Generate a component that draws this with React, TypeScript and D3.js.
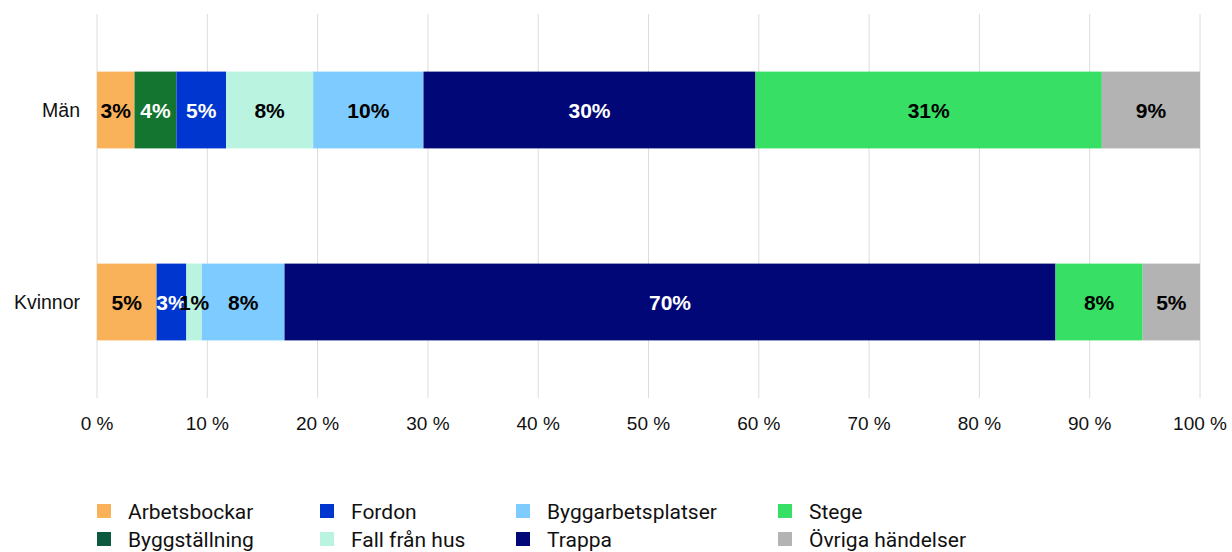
import React, { useRef, useEffect } from "react";
import * as d3 from "d3";

// data (share in %)
const groups = ["Män", "Kvinnor"];
const categories = [
  "Arbetsbockar",
  "Byggställning",
  "Fordon",
  "Fall från hus",
  "Byggarbetsplatser",
  "Trappa",
  "Stege",
  "Övriga händelser",
];
const manValues = [3.4, 3.8, 4.5, 7.9, 10.0, 30.1, 31.4, 8.9];
const kvinnorValues = [5.4, 0, 2.7, 1.4, 7.5, 69.9, 7.9, 5.2];
const colors = ["#F9B25A", "#137530", "#0036D0", "#BAF3E0", "#7ECCFF", "#020778", "#37E065", "#B3B3B3"];
const legendColors = ["#F9B25A", "#0B5A40", "#0036D0", "#BAF3E0", "#7ECCFF", "#020778", "#37E065", "#B3B3B3"];
const darkSegments = ["Byggställning", "Fordon", "Trappa"];
const xTicks = [0, 10, 20, 30, 40, 50, 60, 70, 80, 90, 100];
// legend order, column by column
const legendOrder = [
  ["Arbetsbockar", "Byggställning"],
  ["Fordon", "Fall från hus"],
  ["Byggarbetsplatser", "Trappa"],
  ["Stege", "Övriga händelser"],
];

const W = 1232;
const H = 552;
const FONT = "'Liberation Sans', Arial, sans-serif";

const App: React.FC = () => {
  const svgRef = useRef<SVGSVGElement | null>(null);

  useEffect(() => {
    document.body.style.margin = "0";
    const svg = d3.select(svgRef.current);
    svg.selectAll("*").remove();

    const x = d3.scaleLinear().domain([0, 100]).range([97, 1200]);
    const y = d3.scaleBand().domain(groups).range([14, 398]).paddingInner(0.6).paddingOuter(0.3);

    // grid lines
    svg
      .append("g")
      .selectAll("line")
      .data(xTicks)
      .enter()
      .append("line")
      .attr("x1", (d) => x(d))
      .attr("x2", (d) => x(d))
      .attr("y1", 14)
      .attr("y2", 398)
      .attr("stroke", "#dcdcdc")
      .attr("stroke-width", 1);

    svg
      .append("g")
      .selectAll("text")
      .data(xTicks)
      .enter()
      .append("text")
      .attr("x", (d) => x(d))
      .attr("y", 430)
      .attr("text-anchor", "middle")
      .attr("font-family", FONT)
      .attr("font-size", 19)
      .attr("fill", "#111")
      .text((d) => `${d} %`);

    const rows = [manValues, kvinnorValues];
    rows.forEach((vals, gi) => {
      const g = groups[gi];
      const stack = d3.cumsum(vals);
      const segs = vals.map((v, i) => ({ v, i, start: stack[i] - v, end: stack[i] }));
      const row = svg.append("g");
      row
        .selectAll("rect")
        .data(segs.filter((s) => s.v > 0))
        .enter()
        .append("rect")
        .attr("x", (d) => x(d.start))
        .attr("y", y(g)!)
        .attr("width", (d) => x(d.end) - x(d.start))
        .attr("height", y.bandwidth())
        .attr("fill", (d) => colors[d.i]);
      row
        .selectAll("text")
        .data(segs.filter((s) => s.v > 0))
        .enter()
        .append("text")
        .attr("x", (d) => (x(d.start) + x(d.end)) / 2)
        .attr("y", y(g)! + y.bandwidth() / 2 + 7.5)
        .attr("text-anchor", "middle")
        .attr("font-family", FONT)
        .attr("font-weight", "bold")
        .attr("font-size", 21)
        .attr("fill", (d) => (darkSegments.includes(categories[d.i]) ? "#fff" : "#000"))
        .text((d) => `${Math.round(d.v)}%`);

      svg
        .append("text")
        .attr("x", 80)
        .attr("y", y(g)! + y.bandwidth() / 2 + 7)
        .attr("text-anchor", "end")
        .attr("font-family", FONT)
        .attr("font-size", 19.5)
        .attr("fill", "#111")
        .text(g);
    });

    // legend
    const colX = [97, 320, 516, 778];
    const legend = svg.append("g");
    legendOrder.forEach((col, ci) => {
      col.forEach((name, ri) => {
        const idx = categories.indexOf(name);
        const ly = 504 + ri * 28;
        legend
          .append("rect")
          .attr("x", colX[ci])
          .attr("y", ly)
          .attr("width", 14)
          .attr("height", 14)
          .attr("fill", legendColors[idx]);
        legend
          .append("text")
          .attr("x", colX[ci] + 31)
          .attr("y", ly + 15)
          .attr("font-family", "Roboto, sans-serif")
          .attr("font-size", 21)
          .attr("fill", "#111")
          .text(name);
      });
    });
  }, []);

  return <svg ref={svgRef} width={W} height={H} style={{ display: "block" }}></svg>;
};

export default App;
